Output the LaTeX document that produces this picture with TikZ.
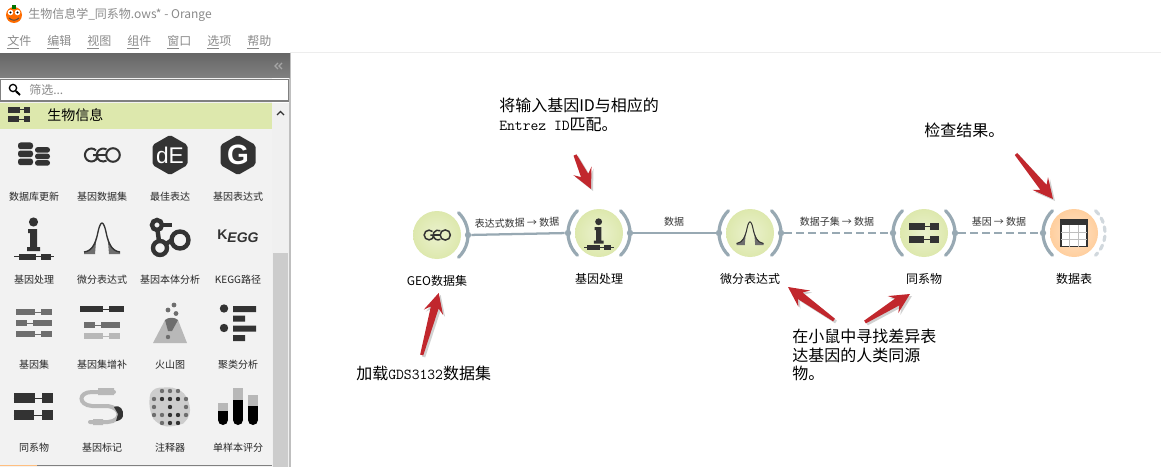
\documentclass[tikz,border=0pt]{standalone}
\usepackage{fontspec}
\setmainfont{Noto Sans CJK SC}
\newfontfamily\lat{Liberation Sans}
\definecolor{ink}{HTML}{333333}
\definecolor{mid}{HTML}{6E6E6E}
\definecolor{pale}{HTML}{B8B8B8}
\definecolor{wire}{HTML}{98A9B3}
\definecolor{redar}{HTML}{C1272D}
\definecolor{greentop}{HTML}{DDE8AD}
\definecolor{menugray}{HTML}{8A8A8A}
\newcommand\fs[1]{\fontsize{#1}{#1}\selectfont}
\newcommand\mono{\fontsize{11.4}{14}\selectfont\ttfamily}
\tikzset{
  palabel/.style={inner sep=0pt,font=\fs{7.5},text=black!85},
  wlabel/.style={inner sep=0pt,font=\fs{9},text=black},
  linklabel/.style={inner sep=0pt,font=\fs{7.5},text=black!80},
  note/.style={inner sep=0pt,anchor=west,align=left,font=\fontsize{12}{14}\selectfont,text=black},
  menuitem/.style={inner sep=0pt,anchor=west,font=\fs{9},text=menugray},
  arcline/.style={draw=wire,line width=2.4pt,line cap=round},
  dotnode/.style={circle,fill=wire,inner sep=0pt,minimum size=4.8pt},
  link/.style={draw=wire,line width=1.7pt},
  dlink/.style={link,dash pattern=on 6pt off 3pt},
}
% gene row: y, colour, x1,x2, x3,x4, half height
\newcommand\grow[7]{%
  \draw[#2,line width=.6pt] (#3,#1) -- (#6,#1);
  \fill[#2] (#3,#1-#7) rectangle (#4,#1+#7);
  \fill[#2] (#5,#1-#7) rectangle (#6,#1+#7);}
\newcommand\iDb[3]{\begin{scope}[shift={(#1,#2)},scale=#3]
  \foreach \yy in {-9,-1,7}{\fill[ink,rounded corners=2pt] (-16,\yy-3.5) rectangle (-1,\yy+3.2);}
  \foreach \yy in {-5,1.5,8}{\fill[ink,rounded corners=2pt] (1,\yy-2.9) rectangle (16,\yy+2.7);}
\end{scope}}
\newcommand\iGeo[3]{\begin{scope}[shift={(#1,#2)},scale=#3]
  \begin{scope}[ink,line width=#3*1.5pt]
  \draw (-6,-4.6) arc (-45:-315:6.5) -- (-4,0) -- (-9,0);
  \draw (4.5,-5.6) arc (-60:-300:6.5);
  \draw (-5,0) -- (4,0);
  \draw (11,0) circle (6.8);
  \end{scope}
\end{scope}}
\newcommand\iHex[5]{\begin{scope}[shift={(#1,#2)},scale=#3]
  \fill[ink,rounded corners=1.5pt] (0,-20) -- (17.5,-10) -- (17.5,10) -- (0,20) -- (-17.5,10) -- (-17.5,-10) -- cycle;
\end{scope}
\node[inner sep=0pt,text=white,font=#4] (#5) at (#1,#2) {#5};}
\newcommand\iInfo[3]{\begin{scope}[shift={(#1,#2)},scale=#3]
  \fill[ink] (-.5,-15) circle (4.6);
  \fill[ink] (-6,-8) -- (3,-8) -- (3,10) -- (6,10) -- (6,14) -- (-7,14) -- (-7,10) -- (-4,10) -- (-4,-4) -- (-6,-4) -- cycle;
  \draw[ink,line width=#3*.8pt] (-20,19.5) -- (20,19.5);
  \fill[ink] (-15.5,16.5) rectangle (1.5,22.5);
  \fill[ink] (6.5,16.5) rectangle (16.5,22.5);
\end{scope}}
\newcommand\iBell[3]{\begin{scope}[shift={(#1,#2)},scale=#3]
  \fill[mid] (-18,16) -- (-18,14) .. controls (-12,13) and (-8,8) .. (-5.5,-2) -- (-7,16) -- cycle;
  \fill[mid] (18,16) -- (18,14) .. controls (12,13) and (8,8) .. (5.5,-2) -- (7,16) -- cycle;
  \draw[ink,line width=#3*1pt] (-18,14) .. controls (-9,13) and (-6,4) .. (-4,-6) .. controls (-2.5,-13) and (-1,-15) .. (0,-15) .. controls (1,-15) and (2.5,-13) .. (4,-6) .. controls (6,4) and (9,13) .. (18,14);
\end{scope}}
\newcommand\iGo[3]{\begin{scope}[shift={(#1,#2)},scale=#3,ink,line width=#3*3.3pt]
  \draw (-13,-14) circle (5);
  \draw (-10,9) circle (7);
  \draw (10,1) circle (8.5);
  \draw (-12.5,-9) -- (-11,2);
  \draw (-4,5) -- (2,1);
  \draw (-8,-14) -- (2,-14);
\end{scope}}
\newcommand\iHomolog[3]{\begin{scope}[shift={(#1,#2)},scale=#3]
  \grow{-8.5}{ink}{-20}{1.5}{8.5}{19.5}{5}
  \grow{8.5}{ink}{-20}{0.5}{8.5}{19.5}{5}
\end{scope}}
\newcommand\iTable[3]{\begin{scope}[shift={(#1,#2)},scale=#3]
  \draw[ink,line width=#3*.8pt,fill=white] (-13,-13.5) rectangle (13,13.5);
  \fill[ink] (-13,-13.5) rectangle (13,-8);
  \foreach \xx in {-4.5,4.5}{\draw[mid!45,line width=.4pt] (\xx,-8) -- (\xx,13.5);}
  \foreach \yy in {-1,6}{\draw[mid!45,line width=.4pt] (-13,\yy) -- (13,\yy);}
\end{scope}}
% widget: name, x, y, inner, outer, label
\newcommand\wcirc[5]{%
  \shade[inner color=#4,outer color=#5] (#2,#3) circle (24);
  \node[circle,inner sep=0pt,minimum size=36pt] (#1) at (#2,#3) {};}
\newcommand\rarc[3]{\draw[arcline] (#2,#3) +(-46:31) arc (-46:46:31);
  \node[dotnode] (#1R) at (#2+31,#3) {};}
\newcommand\larc[3]{\draw[arcline] (#2,#3) +(134:31) arc (134:226:31);
  \node[dotnode] (#1L) at (#2-31,#3) {};}
\newcommand\redarrow[5]{% name, sx,sy,tx,ty
  \coordinate (#1s) at (#2,#3); \coordinate (#1t) at (#4,#5);
  \pgfmathsetmacro\len{veclen(#4-#2,#5-#3)}
  \pgfmathsetmacro\ux{(#4-#2)/\len}
  \pgfmathsetmacro\uy{(#5-#3)/\len}
  \foreach \off/\col/\op in {2/black/.18,0/redar/1}{
  \fill[\col,opacity=\op,shift={(\off,\off)}] (#2+1.6*\uy,#3-1.6*\ux) -- (#4-15*\ux+4*\uy,#5-15*\uy-4*\ux) -- (#4-20*\ux+10*\uy,#5-20*\uy-10*\ux) -- (#4,#5) -- (#4-20*\ux-10*\uy,#5-20*\uy+10*\ux) -- (#4-15*\ux-4*\uy,#5-15*\uy+4*\ux) -- (#2-1.6*\uy,#3+1.6*\ux) -- cycle;}
}
\begin{document}
\begin{tikzpicture}[x=.75pt,y=-.75pt]
\useasboundingbox (0,0) rectangle (1161,467);
\fill[white] (0,0) rectangle (1161,467);
% title bar
\fill[orange!85!red] (14,15) circle (8);
\fill[green!45!black] (12,5) rectangle (16,9);
\fill[white] (10.5,12.5) circle (2.8); \fill[white] (17.5,12.5) circle (2.8);
\fill[black] (10.5,12.5) circle (1.2); \fill[black] (17.5,12.5) circle (1.2);
\draw[black!70,line width=.7pt] (9,18) .. controls (12,21) and (16,21) .. (19,18);
\node[menuitem] (title) at (28,15) {生物信息学\_同系物.ows* - Orange};
\node[menuitem] (m1) at (7,42) {\underline{文}件};
\node[menuitem] (m2) at (47,42) {\underline{编}辑};
\node[menuitem] (m3) at (87,42) {\underline{视}图};
\node[menuitem] (m4) at (127,42) {\underline{组}件};
\node[menuitem] (m5) at (167,42) {\underline{窗}口};
\node[menuitem] (m6) at (207,42) {\underline{选}项};
\node[menuitem] (m7) at (247,42) {\underline{帮}助};
\draw[black!7,line width=.75pt] (290,52.5) -- (1161,52.5);
% side panel
\fill[black!5] (0,53) rectangle (272,467);
\fill[black!6] (272,103) rectangle (289,467);
\fill[black!20] (273,253) rectangle (288,467);
\draw[black!25,line width=1.4pt] (290,53) -- (290,467);
\foreach \i in {0,...,24}{
  \pgfmathsetmacro\shadepc{60-\i*.42}
  \fill[black!\shadepc] (0,53+\i) rectangle (290,54.2+\i);}
\draw[black!35,line width=.9pt] (278,63) -- (275,66) -- (278,69) (282,63) -- (279,66) -- (282,69);
\draw[black!50,fill=white,line width=.8pt] (.5,79.5) rectangle (288.5,101);
\draw[black,line width=1pt] (13,88) circle (3.6);
\draw[black,line width=1.5pt] (15.8,91) -- (20,95);
\node[inner sep=0pt,anchor=west,font=\fs{9},text=menugray] (filter) at (29,90) {筛选...};
\fill[greentop] (0,103) rectangle (272,129);
\iHomolog{19}{114.5}{.55}
\node[inner sep=0pt,anchor=west,font=\fs{10.5}] (biohead) at (47,115) {生物信息};
\draw[ink,line width=1pt] (277,115) -- (280.5,111.5) -- (284,115);
\draw[black!50,line width=.8pt] (0,465.5) -- (272,465.5);
\draw[orange!50,line width=.8pt] (0,465.5) -- (37,465.5);
% palette row 1
\iDb{34}{155}{1}
\iGeo{102}{155}{1}
\iHex{170}{155}{1}{\lat\fs{17}}{dE}
\iHex{238}{155}{1}{\lat\bfseries\fs{21}}{G}
% row 2
\iInfo{34}{237}{1}
\iBell{102}{238}{1}
\iGo{170}{239}{1}
\node[inner sep=0pt,text=ink,font=\lat\bfseries\fs{10.5}] (kegg) at (238,236) {K\raisebox{-2pt}{\textit{EGG}}};
% row 3
\grow{312}{mid}{16}{35}{41}{52}{3.2}
\grow{323}{mid}{16}{27}{33}{52}{3.2}
\grow{334}{mid}{16}{35}{41}{52}{3.2}
\grow{309}{ink}{80}{103}{109}{124}{3.2}
\grow{325}{mid}{84}{95}{101}{120}{3.2}
\grow{336}{pale}{84}{103}{109}{120}{3.2}
\fill[pale] (153,343) -- (165,320) -- (178,320) -- (187,343) -- cycle;
\fill[mid] (165,320) .. controls (168,317) and (175,317) .. (178,320) -- (172,331) -- (168,331) -- cycle;
\fill[mid] (174,305) circle (2.4) (168,310) circle (2.4) (176,313.5) circle (2.4) (168,337) circle (2.2);
\fill[ink] (224,308.5) circle (4.2) (224,328) circle (4.2);
\fill[ink] (233,306) rectangle (256,312) (233,315.5) rectangle (245,321.5) (233,325.5) rectangle (256,331.5) (233,335) rectangle (245,341);
% row 4
\iHomolog{33.5}{406.5}{1}
\draw[pale,line width=3pt,line cap=round] (114,392) -- (92,392) .. controls (78,392) and (78,405) .. (92,406) -- (108,406) .. controls (122,408) and (122,421) .. (108,422) -- (90,422);
\fill[pale] (98,388) rectangle (114,395) (93,419) rectangle (103,425);
\fill[ink] (114,407) .. controls (120,404) and (124,410) .. (123,416) .. controls (122,420) and (118,421) .. (116,421) -- (118,414) -- cycle;
\fill[pale!70,rounded corners=7pt] (150,388) -- (178,387) -- (190,400) -- (190,420) -- (176,427) -- (158,426) -- (149,412) -- cycle;
\foreach \xx/\yy in {162/391,170/391,178/391,154/399,186/399,154/407,186/407,154/415,162/415,186/415,162/423}{\fill[mid] (\xx,\yy) circle (2.2);}
\foreach \xx/\yy in {162/399,170/399,178/399,170/407,178/415,170/415,170/423,178/423}{\fill[ink] (\xx,\yy) circle (2.2);}
\foreach \xx/\top/\blk in {223/403/411,238/388/400,253/395/406}{
  \fill[pale] (\xx-5,\top) rectangle (\xx+5,\blk);
  \fill[black] (\xx-5,\blk) rectangle (\xx+5,420);
  \fill[black] (\xx,420) circle (5);}
% palette labels
\node[palabel] (p1) at (34,197) {数据库更新};
\node[palabel] (p2) at (102,197) {基因数据集};
\node[palabel] (p3) at (170,197) {最佳表达};
\node[palabel] (p4) at (238,197) {基因表达式};
\node[palabel] (p5) at (34,280) {基因处理};
\node[palabel] (p6) at (102,280) {微分表达式};
\node[palabel] (p7) at (170,280) {基因本体分析};
\node[palabel] (p8) at (238,280) {KEGG路径};
\node[palabel] (p9) at (34,365) {基因集};
\node[palabel] (p10) at (102,365) {基因集增补};
\node[palabel] (p11) at (170,365) {火山图};
\node[palabel] (p12) at (238,365) {聚类分析};
\node[palabel] (p13) at (34,448) {同系物};
\node[palabel] (p14) at (102,448) {基因标记};
\node[palabel] (p15) at (170,448) {注释器};
\node[palabel] (p16) at (238,448) {单样本评分};
% canvas widgets
\wcirc{geo}{437}{235}{greentop!60!white}{greentop}
\wcirc{gene}{599}{233}{greentop!60!white}{greentop}
\wcirc{diff}{750}{233}{greentop!60!white}{greentop}
\wcirc{homo}{924}{233}{greentop!60!white}{greentop}
\wcirc{tab}{1074}{233}{orange!22!white}{orange!38!white}
\rarc{geo}{437}{235}
\larc{gene}{599}{233}\rarc{gene}{599}{233}
\larc{diff}{750}{233}\rarc{diff}{750}{233}
\larc{homo}{924}{233}\rarc{homo}{924}{233}
\larc{tab}{1074}{233}
\draw[wire!45,line width=2.4pt,line cap=round,dash pattern=on 3.5pt off 3.5pt] (1074,233) +(-46:31) arc (-46:46:31);
% links
\draw[link] (geoR) -- (geneL);
\draw[link] (geneR) -- (diffL);
\draw[dlink] (diffR) -- (homoL);
\draw[dlink] (homoR) -- (tabL);
\iGeo{437}{235}{.75}
\iInfo{599}{233}{.75}
\iBell{750}{233}{.75}
\iHomolog{924}{233}{.75}
\iTable{1074}{233}{1}
\node[linklabel,rotate=1.5] (l1) at (517,223) {表达式数据 → 数据};
\node[linklabel] (l2) at (674,222) {数据};
\node[linklabel] (l3) at (837,222) {数据子集 → 数据};
\node[linklabel] (l4) at (999,222) {基因 → 数据};
\node[wlabel] (w1) at (437,281) {GEO数据集};
\node[wlabel] (w2) at (599,279) {基因处理};
\node[wlabel] (w3) at (750,279) {微分表达式};
\node[wlabel] (w4) at (924,279) {同系物};
\node[wlabel] (w5) at (1074,279) {数据表};
% notes
\node[note] (n1) at (499,114.5) {将输入基因ID与相应的\\{\mono Entrez ID}匹配。};
\node[note] (n2) at (924,130) {检查结果。};
\node[note] (n3) at (792,355) {在小鼠中寻找差异表\\达基因的人类同源\\物。};
\node[note] (n4) at (356,373) {加载{\mono GDS3132}数据集};
% red arrows
\redarrow{a}{421.7}{355}{438.7}{293}
\redarrow{b}{575}{155}{591}{189}
\redarrow{c}{1016}{154}{1053}{199}
\redarrow{d}{834}{320}{788}{287}
\redarrow{e}{865}{322}{910}{294}
\end{tikzpicture}
\end{document}
